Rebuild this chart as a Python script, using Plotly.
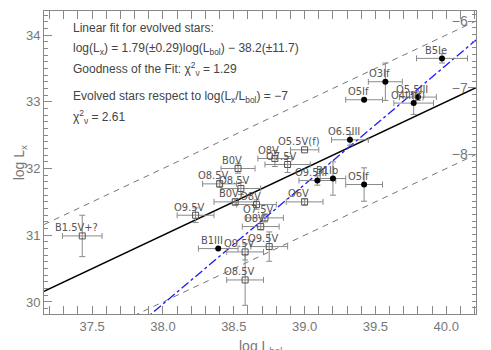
import plotly.graph_objects as go

# colours
INK = '#444444'
AXC = '#888888'
TICKC = '#777777'
ERRC = '#8a8a8a'
BLUE = '#1a1aff'
FONT = 'Liberation Sans, Arial, sans-serif'
NARROW = 'Liberation Sans Narrow, DejaVu Sans Condensed, Liberation Sans, sans-serif'

# plot window (log Lbol, log Lx)
XR = [37.16, 40.21]
YR = [29.82, 34.36]

# linear fit for evolved stars and log(Lx/Lbol) reference levels
FIT_SLOPE = 1.79
FIT_ICPT = -38.05
RATIO_MAIN = -7
RATIO_BAND = [-6, -8]

# evolved stars (filled circles)
ev_name = ['B5Ie', 'O3If', 'O5If', 'O5.5III', 'O4III(f)', 'O6.5III', 'O9.5III', 'B1Ib', 'O5If', 'B1III']
ev_lbol = [39.97, 39.57, 39.42, 39.80, 39.77, 39.32, 39.09, 39.20, 39.42, 38.39]
ev_lx = [33.65, 33.30, 33.03, 33.07, 32.98, 32.43, 31.82, 31.85, 31.76, 30.80]
ev_xerr = [0.18, 0.12, 0.13, 0.13, 0.14, 0.13, 0.13, 0.09, 0.13, 0.14]
ev_yerr = [0.07, 0.28, 0.0, 0.05, 0.17, 0.08, 0.07, 0.25, 0.25, 0.0]

# main-sequence stars (open squares)
ms_name = ['O5.5V(f)', 'O8V', 'O7.5V', 'B0V', 'O8.5V', 'O8.5V', 'B0V', 'O8V', 'O6V', 'O9.5V',
           'O7.5V', 'O8V', 'B1.5V+?', 'O9.5V', 'O8.5V', 'O9.5V']
ms_lbol = [39.00, 38.79, 38.88, 38.53, 38.40, 38.55, 38.51, 38.66, 39.00, 38.23,
           38.72, 38.69, 37.43, 38.58, 38.58, 38.75]
ms_lx = [32.28, 32.15, 32.06, 32.00, 31.77, 31.70, 31.50, 31.46, 31.50, 31.30,
         31.26, 31.13, 30.99, 30.75, 30.33, 30.83]
ms_xerr = [0.10, 0.12, 0.16, 0.12, 0.12, 0.14, 0.15, 0.14, 0.13, 0.13,
           0.13, 0.13, 0.14, 0.13, 0.13, 0.13]
ms_yerr = [0.0, 0.12, 0.12, 0.07, 0.05, 0.09, 0.05, 0.07, 0.05, 0.11,
           0.06, 0.05, 0.31, 0.12, 0.38, 0.22]

text_lines = [
    'Linear fit for evolved stars:',
    'log(L<sub>x</sub>) = 1.79(±0.29)log(L<sub>bol</sub>) − 38.2(±11.7)',
    'Goodness of the Fit: χ<sup>2</sup><sub>ν</sub> = 1.29',
    'Evolved stars respect to log(L<sub>x</sub>/L<sub>bol</sub>) = −7',
    'χ<sup>2</sup><sub>ν</sub> = 2.61',
]
text_y = [0.944, 0.875, 0.809, 0.716, 0.650]

fig = go.Figure()

# reference lines
for r in RATIO_BAND:
    fig.add_trace(go.Scatter(x=XR, y=[v + r for v in XR], mode='lines',
                             line=dict(color='#777777', width=1, dash='6px,5px'),
                             hoverinfo='skip'))
fig.add_trace(go.Scatter(x=XR, y=[v + RATIO_MAIN for v in XR], mode='lines',
                         line=dict(color='black', width=1.5), hoverinfo='skip'))
fig.add_trace(go.Scatter(x=XR, y=[FIT_SLOPE * v + FIT_ICPT for v in XR], mode='lines',
                         line=dict(color=BLUE, width=1.3, dash='dashdot'), hoverinfo='skip'))

fig.add_trace(go.Scatter(
    x=ms_lbol, y=ms_lx, mode='markers',
    marker=dict(symbol='square-open', size=6, color='#555555', line=dict(width=1)),
    error_x=dict(type='data', array=ms_xerr, color=ERRC, thickness=1, width=3),
    error_y=dict(type='data', array=ms_yerr, color=ERRC, thickness=1, width=3),
))
fig.add_trace(go.Scatter(
    x=ev_lbol, y=ev_lx, mode='markers',
    marker=dict(symbol='circle', size=6, color='black'),
    error_x=dict(type='data', array=ev_xerr, color=ERRC, thickness=1, width=3),
    error_y=dict(type='data', array=ev_yerr, color=ERRC, thickness=1, width=3),
))

# point labels
for nm, xx, yy in list(zip(ms_name, ms_lbol, ms_lx)) + list(zip(ev_name, ev_lbol, ev_lx)):
    fig.add_annotation(x=xx, y=yy, text=nm, showarrow=False, xshift=-6, yshift=8,
                       font=dict(family=NARROW, size=11, color='#555555'))

for t, yy in zip(text_lines, text_y):
    fig.add_annotation(x=0.062, y=yy, xref='paper', yref='paper', text=t, showarrow=False,
                       xanchor='left', yanchor='middle',
                       font=dict(family=FONT, size=12, color=INK))

# axis titles (placed by hand to sit like the original)
fig.add_annotation(x=0.5, y=-0.108, xref='paper', yref='paper', text='log L<sub>bol</sub>',
                   showarrow=False, yanchor='middle', font=dict(size=14, color=TICKC))
fig.add_annotation(x=-0.056, y=0.5, xref='paper', yref='paper', text='log L<sub>x</sub>',
                   showarrow=False, textangle=-90, xanchor='center',
                   font=dict(size=14, color=TICKC))

minor = dict(dtick=0.1, ticklen=4, ticks='inside', tickcolor=AXC)
fig.update_layout(
    width=491, height=350, showlegend=False,
    paper_bgcolor='white', plot_bgcolor='white',
    margin=dict(l=44, r=15, t=11, b=36),
    font=dict(family=FONT, color=TICKC, size=13),
    xaxis=dict(range=XR, dtick=0.5, tickformat='.1f', ticks='inside', ticklen=8,
               tickcolor=AXC, showline=True, linecolor=AXC, mirror='allticks',
               showgrid=False, zeroline=False, minor=minor, automargin=False),
    yaxis=dict(range=YR, dtick=1, ticks='inside', ticklen=8, tickcolor=AXC,
               showline=True, linecolor=AXC, mirror=True, showgrid=False,
               zeroline=False, minor=minor, automargin=False),
    yaxis2=dict(overlaying='y', side='right', range=[YR[0] - XR[1], YR[1] - XR[1]],
                tickvals=[-6, -7, -8], ticktext=['−6', '−7', '−8'],
                ticks='inside', ticklen=8, tickcolor=AXC, ticklabelposition='inside',
                showline=False, showgrid=False, zeroline=False, minor=minor,
                tickfont=dict(size=14, color=TICKC), automargin=False),
)
# dummy trace to activate the right-hand log(Lx/Lbol) axis
fig.add_trace(go.Scatter(x=[XR[0]], y=[YR[0] - XR[1]], yaxis='y2', mode='markers',
                         marker=dict(opacity=0), hoverinfo='skip'))

fig.write_html('out.html', config={'displayModeBar': False},
               post_script="document.body.style.margin='0px';")
